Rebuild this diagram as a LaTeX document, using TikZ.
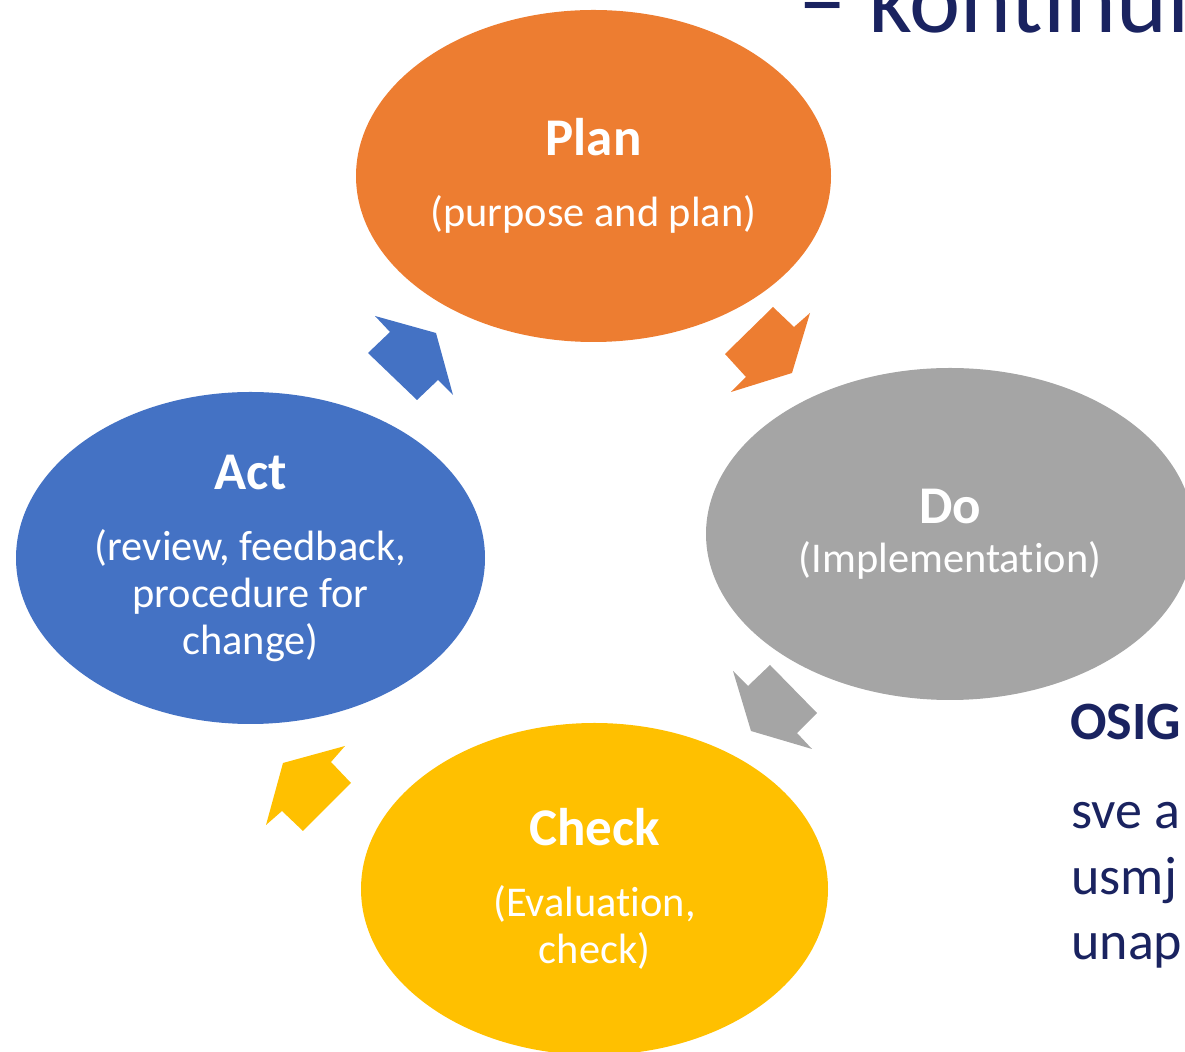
\documentclass[tikz,border=0pt]{standalone}
\usepackage{fontspec}
\setmainfont{Carlito}[Ligatures=NoCommon]
\usetikzlibrary{shapes.geometric}

\definecolor{planorange}{HTML}{ED7D31}
\definecolor{dogray}{HTML}{A5A5A5}
\definecolor{checkyellow}{HTML}{FFC000}
\definecolor{actblue}{HTML}{4472C4}
\definecolor{slidenavy}{HTML}{1A2360}

\tikzset{
  phase/.style={ellipse, inner sep=0pt, text=white, align=center,
    font=\fontsize{21.2}{23.5}\selectfont},
  slidetext/.style={anchor=base west, inner sep=0pt, text=slidenavy,
    font=\fontsize{27}{32}\selectfont},
}
\newcommand{\phasetitle}[1]{{\fontsize{26.5}{29}\selectfont\bfseries #1}}

\begin{document}
\begin{tikzpicture}[x=0.5pt, y=-0.5pt]
\useasboundingbox (0,0) rectangle (1185,1052);
\clip (0,0) rectangle (1185,1052);

% slide text behind the cycle
\node[slidetext, font=\fontsize{48.5}{58}\selectfont] (heading) at (798,33) {– kontinui};
\node[slidetext, font=\fontsize{27}{32}\selectfont\bfseries] (osig) at (1070,740) {OSIG};
\node[slidetext] (line1) at (1071,829) {sve a};
\node[slidetext] (line2) at (1071,895) {usmj};
\node[slidetext] (line3) at (1071,960) {unap};

% the four phases
\node[phase, fill=planorange, minimum width=237.5pt, minimum height=166pt] (plan) at (593.5,176)
  {\phasetitle{Plan}\\[12pt] (purpose and plan)};
\node[phase, fill=dogray, minimum width=244pt, minimum height=166pt] (do) at (950,534)
  {\phasetitle{Do}\\[1pt] (Implementation)};
\node[phase, fill=checkyellow, minimum width=233.5pt, minimum height=166pt] (check) at (594.5,889)
  {\phasetitle{Check}\\[12pt] (Evaluation,\\ check)};
\node[phase, fill=actblue, minimum width=234.5pt, minimum height=166pt] (act) at (250.5,558)
  {\phasetitle{Act}\\[12pt] (review, feedback,\\ procedure for\\ change)};

% block arrows between the phases
\fill[planorange] (773,307) -- (794,327) -- (810,313) -- (792,373) -- (731,392) -- (746,377) -- (725,354) -- cycle;
\fill[dogray] (733,671) -- (748,686) -- (770,665) -- (817,713) -- (797,733) -- (812,749) -- (751,731) -- cycle;
\fill[checkyellow] (345,746) -- (331,762) -- (351,783) -- (303,831) -- (282,811) -- (266,825) -- (283,763) -- cycle;
\fill[actblue] (375,316) -- (436,333) -- (453,395) -- (438,380) -- (417,400) -- (368,353) -- (390,332) -- cycle;

\end{tikzpicture}
\end{document}
